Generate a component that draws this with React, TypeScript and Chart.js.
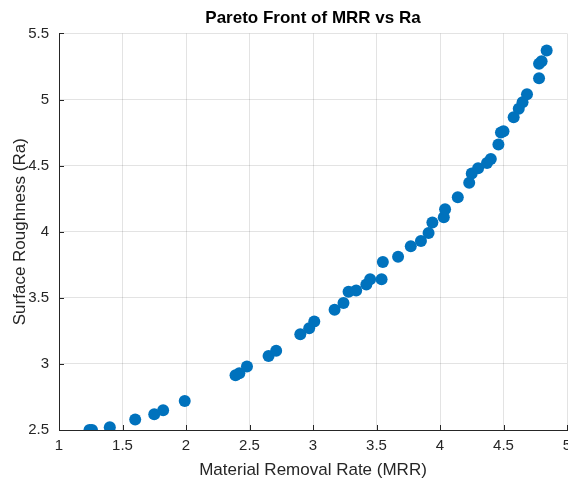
import React, { useEffect, useRef } from "react";
import { Chart, registerables } from "chart.js";

Chart.register(...registerables);

const mrr: number[] = [
  1.24, 1.26, 1.40, 1.60, 1.75, 1.82, 1.99, 2.39, 2.42, 2.48, 2.65, 2.71,
  2.90, 2.97, 3.01, 3.17, 3.24, 3.28, 3.34, 3.42, 3.45, 3.54, 3.55, 3.67,
  3.77, 3.85, 3.91, 3.94, 4.03, 4.04, 4.14, 4.23, 4.25, 4.30, 4.37, 4.40,
  4.46, 4.48, 4.50, 4.58, 4.62, 4.65, 4.685, 4.78, 4.78, 4.80, 4.84,
];
const ra: number[] = [
  2.50, 2.50, 2.52, 2.58, 2.62, 2.65, 2.72, 2.915, 2.93, 2.98, 3.06, 3.10,
  3.225, 3.27, 3.32, 3.41, 3.46, 3.545, 3.555, 3.60, 3.64, 3.64, 3.77, 3.81,
  3.89, 3.93, 3.99, 4.07, 4.11, 4.17, 4.26, 4.37, 4.44, 4.48, 4.52, 4.55,
  4.66, 4.75, 4.76, 4.865, 4.93, 4.98, 5.04, 5.16, 5.27, 5.29, 5.37,
];
const xTicks: number[] = [1, 1.5, 2, 2.5, 3, 3.5, 4, 4.5, 5];
const yTicks: number[] = [2.5, 3, 3.5, 4, 4.5, 5, 5.5];

const titleText = "Pareto Front of MRR vs Ra";
const xLabel = "Material Removal Rate (MRR)";
const yLabel = "Surface Roughness (Ra)";

const AXIS = "#262626";
const GRID = "rgba(38,38,38,0.13)";
const FONT = "'Liberation Sans', Arial, Helvetica, sans-serif";

const innerTicks = {
  id: "innerTicks",
  beforeDatasetsDraw(chart: any) {
    const ctx = chart.ctx;
    const xs = chart.scales.x;
    const ys = chart.scales.y;
    const area = chart.chartArea;
    const len = 5;
    ctx.save();
    ctx.strokeStyle = AXIS;
    ctx.lineWidth = 1;
    ctx.beginPath();
    xTicks.forEach((v) => {
      const px = Math.round(xs.getPixelForValue(v)) + 0.5;
      ctx.moveTo(px, area.bottom);
      ctx.lineTo(px, area.bottom - len);
    });
    yTicks.forEach((v) => {
      const py = Math.round(ys.getPixelForValue(v)) + 0.5;
      ctx.moveTo(area.left, py);
      ctx.lineTo(area.left + len, py);
    });
    ctx.stroke();
    ctx.restore();
  },
};

const fmt = (v: any) => String(Number(v));

export default function App() {
  const ref = useRef<HTMLCanvasElement | null>(null);

  useEffect(() => {
    if (!ref.current) return;
    const points = mrr.map((x, i) => ({ x, y: ra[i] }));
    const chart = new Chart(ref.current, {
      type: "scatter",
      data: {
        datasets: [
          {
            data: points,
            backgroundColor: "#0072BD",
            borderColor: "#0072BD",
            borderWidth: 0,
            pointRadius: 6,
            pointHoverRadius: 6,
          },
        ],
      },
      options: {
        animation: false,
        responsive: false,
        maintainAspectRatio: false,
        layout: { autoPadding: false, padding: { left: 0, right: 1, top: 0, bottom: 0 } },
        plugins: {
          legend: { display: false },
          tooltip: { enabled: false },
          title: {
            display: true,
            text: titleText,
            fullSize: false,
            color: "#000000",
            font: { family: FONT, size: 17, weight: "bold" },
            padding: { top: 8, bottom: 5 },
          },
        },
        scales: {
          x: {
            type: "linear",
            min: 1,
            max: 5,
            afterBuildTicks: (s: any) => {
              s.ticks = xTicks.map((v) => ({ value: v }));
            },
            afterFit: (s: any) => {
              s.height = 51;
              s.paddingLeft = 0;
              s.paddingRight = 0;
            },
            ticks: {
              color: AXIS,
              font: { family: FONT, size: 15 },
              padding: 7,
              maxRotation: 0,
              autoSkip: false,
              callback: fmt,
            },
            grid: { color: GRID, drawTicks: false, lineWidth: 1 },
            border: { color: AXIS, width: 1 },
            title: {
              display: true,
              text: xLabel,
              color: AXIS,
              font: { family: FONT, size: 17 },
              padding: { top: 0, bottom: 0 },
            },
          },
          y: {
            type: "linear",
            min: 2.5,
            max: 5.5,
            afterBuildTicks: (s: any) => {
              s.ticks = yTicks.map((v) => ({ value: v }));
            },
            afterFit: (s: any) => {
              s.width = 59;
              s.paddingTop = 0;
              s.paddingBottom = 0;
            },
            ticks: {
              color: AXIS,
              font: { family: FONT, size: 15 },
              padding: 10,
              autoSkip: false,
              callback: fmt,
            },
            grid: { color: GRID, drawTicks: false, lineWidth: 1 },
            border: { color: AXIS, width: 1 },
            title: {
              display: true,
              text: yLabel,
              color: AXIS,
              font: { family: FONT, size: 17 },
              padding: { top: 10, bottom: 0 },
            },
          },
        },
      },
      plugins: [innerTicks],
    });
    return () => chart.destroy();
  }, []);

  return (
    <div
      style={{
        position: "fixed",
        left: 0,
        top: 0,
        width: 568,
        height: 481,
        overflow: "hidden",
        background: "#fff",
      }}
    >
      <canvas ref={ref} width={568} height={481} style={{ width: 568, height: 481, display: "block" }} />
    </div>
  );
}
